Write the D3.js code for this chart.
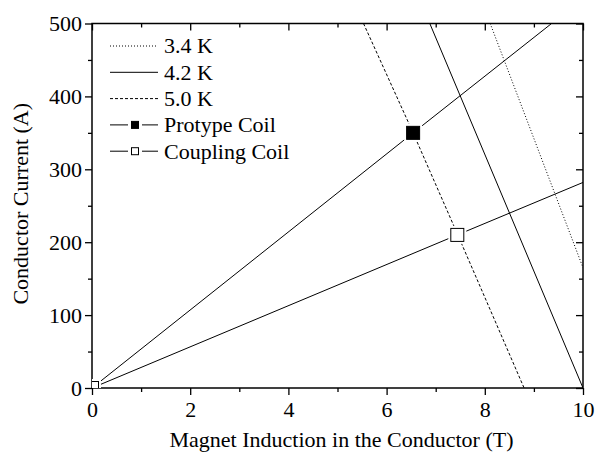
<!DOCTYPE html>
<html lang="en">

<head>
    <meta charset="UTF-8">
    <title>critical_current</title>
    <script src="https://cdn.jsdelivr.net/npm/d3@7"></script>
    <style>
        html, body { margin: 0; padding: 0; background: #fff; overflow: hidden; }
        svg { display: block; }
        text { font-family: "Liberation Serif", "Times New Roman", serif; fill: #000; }
    </style>
</head>

<body>
    <svg width="597" height="457" id="mainsvg"></svg>
    <script>
        // data: B in T, I in A
        const xMajor = [0, 2, 4, 6, 8, 10];
        const xMinor = [1, 3, 5, 7, 9];
        const yMajor = [0, 100, 200, 300, 400, 500];
        const yMinor = [50, 150, 250, 350, 450];

        const b34 = [8.11, 10];
        const i34 = [500, 165];
        const b42 = [6.88, 10];
        const i42 = [500, 0];
        const b50 = [5.53, 6.54, 7.45, 8.80];
        const i50 = [500, 350, 210, 0];
        const bProt = [0, 6.54, 9.36];
        const iProt = [0, 350, 500];
        const bCoup = [0, 7.44, 10];
        const iCoup = [0, 210, 282];
        const protMarks = [1];      // indexes into bProt/iProt
        const coupMarks = [0, 1];   // indexes into bCoup/iCoup

        const legendNames = ['3.4 K', '4.2 K', '5.0 K', 'Protype Coil', 'Coupling Coil'];

        const svg = d3.select('#mainsvg');
        const width = +svg.attr('width');
        const height = +svg.attr('height');
        const margin = { top: 23.5, right: 14, bottom: 69, left: 92 };
        const innerWidth = width - margin.left - margin.right;
        const innerHeight = height - margin.top - margin.bottom;
        const g = svg.append('g').attr('id', 'maingroup')
            .attr('transform', `translate(${margin.left}, ${margin.top})`);

        const xScale = d3.scaleLinear().domain([0, 10]).range([0, innerWidth]);
        const yScale = d3.scaleLinear().domain([0, 500]).range([innerHeight, 0]);

        g.append('clipPath').attr('id', 'clip')
            .append('rect').attr('width', innerWidth).attr('height', innerHeight);

        // axes: major + minor ticks, left/bottom outward, top/right inward
        const axes = [
            [d3.axisBottom(xScale).tickValues(xMajor).tickSize(7).tickPadding(6), `translate(0, ${innerHeight})`, true],
            [d3.axisBottom(xScale).tickValues(xMinor).tickSize(4), `translate(0, ${innerHeight})`, false],
            [d3.axisLeft(yScale).tickValues(yMajor).tickSize(7).tickPadding(3), null, true],
            [d3.axisLeft(yScale).tickValues(yMinor).tickSize(4), null, false],
            [d3.axisBottom(xScale).tickValues(xMajor).tickSize(7), null, false],
            [d3.axisBottom(xScale).tickValues(xMinor).tickSize(4), null, false],
            [d3.axisLeft(yScale).tickValues(yMajor).tickSize(7), `translate(${innerWidth}, 0)`, false],
            [d3.axisLeft(yScale).tickValues(yMinor).tickSize(4), `translate(${innerWidth}, 0)`, false]
        ];
        axes.forEach(([ax, tr, labels]) => {
            const a = g.append('g').call(ax);
            if (tr) a.attr('transform', tr);
            a.select('.domain').remove();
            a.selectAll('line').attr('stroke', '#000').attr('stroke-width', 1.3);
            if (labels) {
                a.selectAll('text').attr('font-size', '22px').attr('font-family', '"Liberation Serif", serif');
            } else {
                a.selectAll('text').remove();
            }
        });

        g.append('rect').attr('width', innerWidth).attr('height', innerHeight)
            .attr('fill', 'none').attr('stroke', '#000').attr('stroke-width', 1.5);

        const plot = g.append('g').attr('clip-path', 'url(#clip)');
        const line = d3.line().x(d => xScale(d[0])).y(d => yScale(d[1]));
        const zipped = (bs, is) => bs.map((b, i) => [b, is[i]]);

        const series = [
            [zipped(b34, i34), '1,2'],
            [zipped(b42, i42), null],
            [zipped(b50, i50), '3,2'],
            [zipped(bProt, iProt), null],
            [zipped(bCoup, iCoup), null]
        ];
        series.forEach(([pts, dash]) => {
            plot.append('path').datum(pts).attr('d', line)
                .attr('fill', 'none').attr('stroke', '#000').attr('stroke-width', 1)
                .attr('stroke-dasharray', dash);
        });

        // markers with a small white gap around them
        const marks = protMarks.map(i => [bProt[i], iProt[i], '#000'])
            .concat(coupMarks.map(i => [bCoup[i], iCoup[i], '#fff']));
        plot.selectAll('.gap').data(marks).join('rect')
            .attr('class', 'gap')
            .attr('x', d => xScale(d[0]) - 9).attr('y', d => yScale(d[1]) - 9)
            .attr('width', 18).attr('height', 18).attr('fill', '#fff');
        plot.selectAll('.mark').data(marks).join('rect')
            .attr('class', 'mark')
            .attr('x', d => xScale(d[0]) - 6.5).attr('y', d => yScale(d[1]) - 6.5)
            .attr('width', 13).attr('height', 13)
            .attr('fill', d => d[2]).attr('stroke', '#000').attr('stroke-width', 1);

        // axis titles
        svg.append('text').attr('x', margin.left + innerWidth / 2 + 4).attr('y', 447)
            .attr('text-anchor', 'middle').attr('font-size', '22px')
            .text('Magnet Induction in the Conductor (T)');
        svg.append('text').attr('transform', `translate(28, ${margin.top + innerHeight / 2 - 2}) rotate(-90)`)
            .attr('text-anchor', 'middle').attr('font-size', '22px')
            .text('Conductor Current (A)');

        // legend
        const legDash = ['1,2', null, '3,2', null, null];
        const legFill = [null, null, null, '#000', '#fff'];
        const leg = svg.append('g').attr('id', 'legend');
        legendNames.forEach((name, i) => {
            const cy = 46 + i * 26.3;
            leg.append('line').attr('x1', 110).attr('x2', 158).attr('y1', cy).attr('y2', cy)
                .attr('stroke', '#000').attr('stroke-width', 1).attr('stroke-dasharray', legDash[i]);
            if (legFill[i]) {
                leg.append('rect').attr('x', 128).attr('y', cy - 7).attr('width', 14).attr('height', 14).attr('fill', '#fff');
                leg.append('rect').attr('x', 131.5).attr('y', cy - 3.5).attr('width', 7).attr('height', 7)
                    .attr('fill', legFill[i]).attr('stroke', '#000').attr('stroke-width', 1);
            }
            leg.append('text').attr('x', 164).attr('y', cy + 7.3).attr('font-size', '22px').text(name);
        });
    </script>
</body>

</html>
